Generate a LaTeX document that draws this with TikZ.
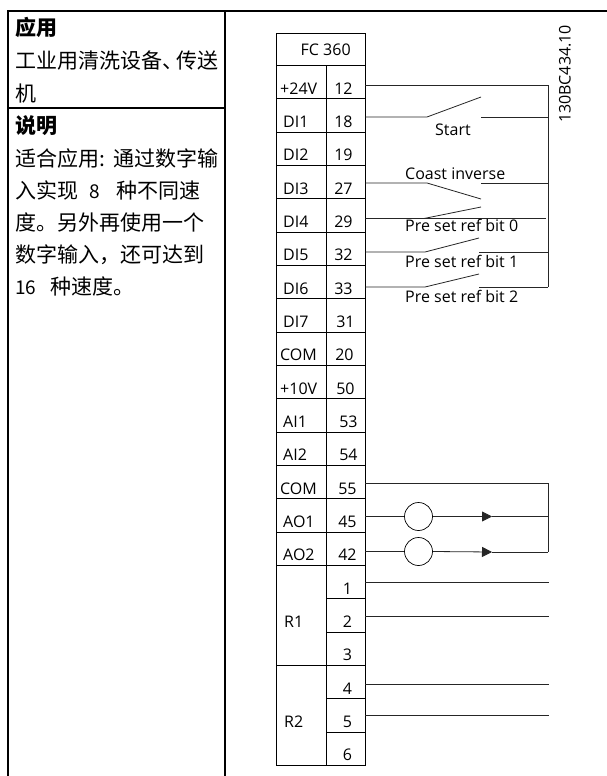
\documentclass[tikz,border=0pt]{standalone}
\usepackage{fontspec}
\setmainfont{Open Sans}
\newfontfamily\cjkfont{Noto Sans CJK SC}
\usetikzlibrary{arrows.meta}
\newcommand{\lsz}{\fontsize{16}{18}\selectfont}
\tikzset{
  x=1pt,y=1pt,
  rule/.style={line width=1.2pt,black},
  wire/.style={line width=0.8pt,black!85},
  lampc/.style={circle,draw,line width=0.7pt,minimum size=28pt,inner sep=0pt,fill=white},
  tip/.style={-{Triangle[length=10pt,width=10pt]}},
  cellbase/.style={draw,line width=0.9pt,minimum height=33.33pt,inner sep=0pt,text height=24pt,text depth=0pt,font=\lsz},
  lab/.style={cellbase,minimum width=49.5pt},
  num/.style={cellbase,minimum width=39pt},
  side/.style={anchor=base west,inner sep=0pt,font=\cjkfont\fontsize{21}{24}\selectfont},
  sideb/.style={side,font=\cjkfont\bfseries\fontsize{21}{24}\selectfont},
  wlab/.style={anchor=base west,inner sep=0pt,font=\lsz},
}
\begin{document}
\begin{tikzpicture}
\useasboundingbox (0,0) rectangle (607,-776);
\fill[white] (0,0) rectangle (607,-776);
% table
\coordinate (tl) at (8,-11); \coordinate (tr) at (607,-11);
\coordinate (bl) at (8,-776); \coordinate (mt) at (225,-11); \coordinate (mb) at (225,-776);
\coordinate (rl) at (8,-108); \coordinate (rr) at (225,-108);
\draw[rule] (bl) -- (tl) -- (tr);
\draw[rule] (mt) -- (mb);
\draw[rule] (rl) -- (rr);
% side text
\node[sideb] (s1) at (15,-36) {应用};
\node[side] (s2) at (15,-68.5) {工业用清洗设备、\kern-7pt 传送};
\node[side] (s3) at (15,-101) {机};
\node[sideb] (s4) at (15,-133.5) {说明};
\node[side] (s5) at (15,-166) {适合应用\makebox[14pt][l]{:}通过数字输};
\node[side] (s6) at (15,-198.5) {入实现\kern11pt\makebox[10pt][l]{\fontsize{19}{24}\selectfont 8}\kern17pt 种不同速};
\node[side] (s7) at (15,-230.5) {度。另外再使用一个};
\node[side] (s8) at (15,-262.5) {数字输入，还可达到};
\node[side] (s9) at (15,-294.5) {\makebox[20pt][l]{\fontsize{19}{24}\selectfont 16}\kern15pt 种速度。};
% terminal block
\node[draw,line width=0.9pt,minimum width=88.5pt,minimum height=32pt,inner sep=0pt,font=\lsz,anchor=north west] (hd) at (276,-33) {\hspace*{10pt}FC 360};
\foreach \i/\l/\n/\d in {0/{+24V}/12/-4,1/{\hspace*{3pt}DI1}/18/-4,2/{\hspace*{3pt}DI2}/19/-4,3/{\hspace*{3pt}DI3}/27/-4,4/{\hspace*{3pt}DI4}/29/-4,5/{\hspace*{3pt}DI5}/32/-4,6/{\hspace*{3pt}DI6}/33/-4,7/{\hspace*{3pt}DI7}/31/0,8/COM/20/-2,9/{+10V}/50/0,10/{\hspace*{3pt}AI1}/53/6,11/{\hspace*{3pt}AI2}/54/6,12/COM/55/4,13/{\hspace*{3pt}AO1}/45/4,14/{\hspace*{3pt}AO2}/42/4}{
  \node[lab,anchor=north west] (l\n) at (276,-65-33.33*\i) {\makebox[42pt][l]{\l}};
  \node[num,anchor=north west] (n\n) at (325.5,-65-33.33*\i) {\hspace*{\d pt}\n};
}
\foreach \i/\n in {15/1,16/2,17/3,18/4,19/5,20/6}{
  \node[num,anchor=north west] (n\n) at (325.5,-65-33.33*\i) {\hspace*{4pt}\n};
}
\node[lab,minimum height=100pt,anchor=north west] (r1) at (276,-565) {\makebox[34pt][l]{R1}};
\node[lab,minimum height=100pt,anchor=north west] (r2) at (276,-665) {\makebox[34pt][l]{R2}};
% upper wiring
\coordinate (cA) at (548,-85);
\coordinate (cB) at (548,-287);
\draw[wire] (n12.east |- cA) -- (cA) -- (cB);
\foreach \n/\y/\a/\bx/\by in {18/117/427/481/97,27/183/427/481/199,32/252/425/479/238,33/287/425/479/274}{
  \coordinate (a\n) at (\a,-\y);
  \coordinate (b\n) at (\bx,-\by);
  \coordinate (c\n) at (\bx,-\y);
  \coordinate (e\n) at (548,-\y);
  \draw[wire] (n\n.east |- a\n) -- (a\n) -- (b\n);
  \draw[wire] (c\n) -- (e\n);
}
\coordinate (a29) at (424,-218.5); \coordinate (b29) at (481,-207); \coordinate (e29) at (546,-218.5);
\draw[wire] (n29.east |- a29) -- (a29) -- (b29);
\draw[wire] (a29) -- (e29);
\node[wlab] (tStart) at (435,-135) {Start};
\node[wlab] (tCoast) at (405,-179) {Coast inverse};
\node[wlab] (tb0) at (405,-231) {Pre set ref bit 0};
\node[wlab] (tb1) at (405,-267) {Pre set ref bit 1};
\node[wlab] (tb2) at (405,-302) {Pre set ref bit 2};
\node[inner sep=0pt,rotate=90,font=\lsz] (code) at (565,-74) {130BC434.10};
% analog wiring
\coordinate (dA) at (548,-483.5); \coordinate (dB) at (548,-552);
\coordinate (d45) at (548,-516.5);
\node[lampc] (L1) at (418.5,-516.5) {};
\node[lampc] (L2) at (418.5,-551.5) {};
\coordinate (t1) at (492,-516.5); \coordinate (t2) at (492,-552);
\draw[wire] (n55.east |- dA) -- (dA) -- (dB);
\draw[wire] (n45.east |- L1) -- (L1);
\draw[wire] (n42.east |- L2) -- (L2);
\draw[wire,tip] (L1) -- (t1);
\draw[wire,tip] (L2.east) -- (t2);
\draw[wire] (t1) -- (d45);
\draw[wire] (t2) -- (dB);
% relay wiring
\foreach \n/\y in {1/582.5,2/616.5,4/684,5/715.5}{
  \coordinate (f\n) at (548.5,-\y);
  \draw[wire] (n\n.east |- f\n) -- (f\n);
}
\end{tikzpicture}
\end{document}
